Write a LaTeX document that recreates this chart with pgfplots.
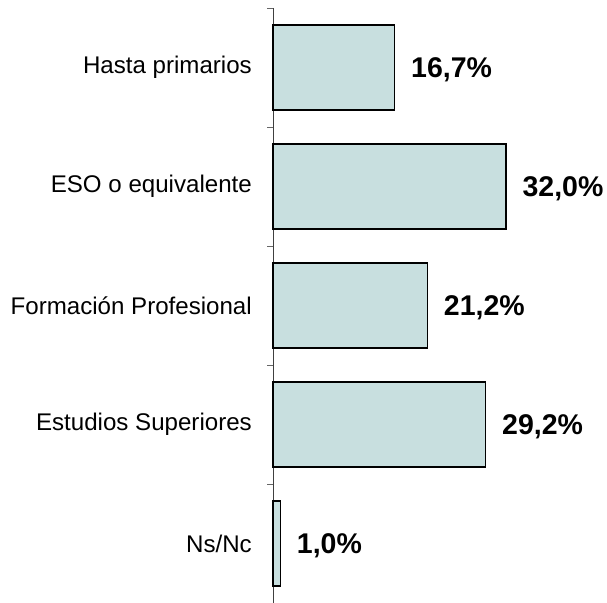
\documentclass[border=0pt]{standalone}
\usepackage{pgfplots}
\pgfplotsset{compat=1.18}
\usepackage{fontspec}
\setmainfont{Liberation Sans}
\definecolor{barfill}{RGB}{200,223,223}
\begin{document}
\begin{tikzpicture}[x=1bp,y=1bp]
\useasboundingbox (0,0) rectangle (607,603);
\begin{axis}[
  at={(273bp,0bp)}, anchor=south west,
  scale only axis,
  width=334bp, height=595bp,
  xmin=0, xmax=45.88,
  ymin=-0.5, ymax=4.5,
  y dir=reverse,
  axis x line=none,
  axis y line*=left,
  y axis line style={black!75, line width=0.9bp},
  ytick={-0.5,0.5,1.5,2.5,3.5,4.5},
  yticklabels={},
  tick align=outside,
  major tick length=6bp,
  every tick/.style={black!60, line width=0.9bp},
  extra y ticks={0,1,2,3,4},
  extra y tick labels={Hasta primarios,ESO o equivalente,Formación Profesional,Estudios Superiores,Ns/Nc},
  extra y tick style={major tick length=0pt, yticklabel style={inner sep=0pt, xshift=-21bp}},
  yticklabel style={font=\fontsize{24.1bp}{29bp}\selectfont, text=black},
  xbar, bar width=85bp,
  point meta=explicit symbolic,
  nodes near coords,
  nodes near coords style={anchor=west, inner sep=0pt, xshift=16bp, yshift=-2bp, font=\bfseries\fontsize{28.5bp}{34bp}\selectfont, text=black},
  clip=false,
]
\addplot[draw=black, line width=1.3bp, fill=barfill] coordinates {
  (16.7,0) [16,7\%]
  (32.0,1) [32,0\%]
  (21.2,2) [21,2\%]
  (29.2,3) [29,2\%]
  (1.0,4)  [1,0\%]
};
\end{axis}
\end{tikzpicture}
\end{document}
